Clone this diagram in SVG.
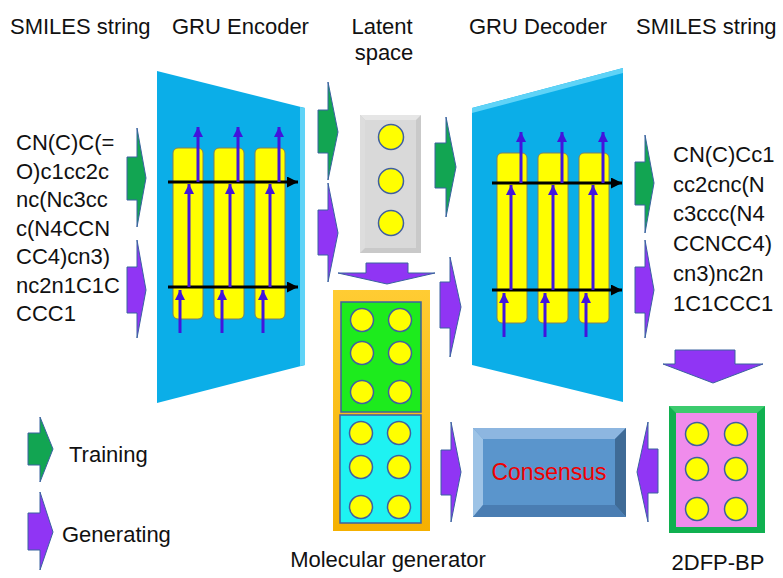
<svg xmlns="http://www.w3.org/2000/svg" width="783" height="578" viewBox="0 0 783 578">
<defs>
<style>
text{font-family:"Liberation Sans",Arial,sans-serif;font-size:22px;fill:#111}
.yb{fill:#FFFF00;stroke:#7F7F60;stroke-width:1}
.dot{fill:#FFFF00;stroke:#3F5FA0;stroke-width:1.5}
.blu{stroke:#4214DC;stroke-width:3;fill:none;marker-end:url(#bh)}
.blk{stroke:#000;stroke-width:3;fill:none;marker-end:url(#kh)}
.ga{fill:#12A552;stroke:#3A62A0;stroke-width:1}
.pa{fill:#9035F4;stroke:#3A62A0;stroke-width:1}
</style>
<marker id="bh" markerUnits="userSpaceOnUse" markerWidth="10" markerHeight="12" refX="10" refY="5" orient="auto"><path d="M0,0 L10,5 L0,10 Z" fill="#4214DC"/></marker>
<marker id="kh" markerUnits="userSpaceOnUse" markerWidth="12" markerHeight="12" refX="11" refY="5.5" orient="auto"><path d="M0,0 L11,5.5 L0,11 Z" fill="#000"/></marker>
<linearGradient id="og" x1="0" y1="0" x2="0" y2="1"><stop offset="0" stop-color="#FFCC33"/><stop offset="1" stop-color="#F5B000"/></linearGradient>
</defs>
<rect width="783" height="578" fill="#fff"/>

<g id="headers">
<text x="10" y="34">SMILES string</text>
<text x="172" y="34">GRU Encoder</text>
<text x="382" y="34" text-anchor="middle">Latent</text>
<text x="384" y="60" text-anchor="middle">space</text>
<text x="469" y="34">GRU Decoder</text>
<text x="636" y="34">SMILES string</text>
</g>

<g id="smiles-in">
<text x="16" y="150">CN(C)C(=</text>
<text x="16" y="178.5">O)c1cc2c</text>
<text x="16" y="207">nc(Nc3cc</text>
<text x="16" y="235.5">c(N4CCN</text>
<text x="16" y="264">CC4)cn3)</text>
<text x="16" y="292.5">nc2n1C1C</text>
<text x="16" y="321">CCC1</text>
</g>

<g id="encoder">
<polygon points="157,71 305,108 305,365 157,403" fill="#0BAEE8"/>
<polygon points="300,107 305,108 305,365 300,366" fill="#5FD3F7"/>
<rect class="yb" x="173" y="148" width="30" height="171" rx="5"/>
<rect class="yb" x="214" y="148" width="30" height="171" rx="5"/>
<rect class="yb" x="255" y="148" width="30" height="171" rx="5"/>
<path class="blk" d="M168,182 H298"/>
<path class="blk" d="M168,287 H298"/>
<path class="blu" d="M180,333 V290"/>
<path class="blu" d="M189,287 V184"/>
<path class="blu" d="M198,182 V127"/>
<path class="blu" d="M222,333 V290"/>
<path class="blu" d="M230,287 V184"/>
<path class="blu" d="M238,182 V127"/>
<path class="blu" d="M263,333 V290"/>
<path class="blu" d="M270,287 V184"/>
<path class="blu" d="M279,182 V127"/>
</g>

<g id="latent">
<rect x="360" y="115" width="61" height="138" fill="#C9C9C9"/>
<polygon points="360,115 421,115 416,120 365,120" fill="#E6E6E6"/>
<polygon points="360,115 365,120 365,248 360,253" fill="#DDDDDD"/>
<rect x="365" y="120" width="51" height="128" fill="#D9D9D9"/>
<circle class="dot" cx="391" cy="137" r="12.5"/>
<circle class="dot" cx="391" cy="181" r="12.5"/>
<circle class="dot" cx="391" cy="223" r="12.5"/>
</g>

<g id="decoder">
<polygon points="472,108 623,68 623,402 472,365" fill="#0BAEE8"/>
<polygon points="472,108 623,68 623,73 472,113" fill="#5FD3F7"/>
<rect class="yb" x="497" y="153" width="30" height="170" rx="5"/>
<rect class="yb" x="538" y="153" width="30" height="170" rx="5"/>
<rect class="yb" x="579" y="153" width="30" height="170" rx="5"/>
<path class="blk" d="M492,183 H622"/>
<path class="blk" d="M492,290 H622"/>
<path class="blu" d="M504,337 V293"/>
<path class="blu" d="M511,290 V185"/>
<path class="blu" d="M521,183 V132"/>
<path class="blu" d="M545,337 V293"/>
<path class="blu" d="M553,290 V185"/>
<path class="blu" d="M562,183 V132"/>
<path class="blu" d="M586,337 V293"/>
<path class="blu" d="M593,290 V185"/>
<path class="blu" d="M603,183 V132"/>
</g>

<g id="smiles-out">
<text x="673" y="162">CN(C)Cc1</text>
<text x="673" y="191.7">cc2cnc(N</text>
<text x="673" y="221.4">c3ccc(N4</text>
<text x="673" y="251.1">CCNCC4)</text>
<text x="673" y="280.8">cn3)nc2n</text>
<text x="673" y="310.5">1C1CCC1</text>
</g>

<g id="molgen">
<rect x="333" y="290" width="97" height="241" fill="url(#og)"/>
<rect x="341" y="302" width="80" height="110" fill="#1DEB1D" stroke="#3F5FA0" stroke-width="1.5"/>
<rect x="340" y="415" width="81" height="108" fill="#1EF2F2" stroke="#3F5FA0" stroke-width="1.5"/>
<circle class="dot" cx="362" cy="320" r="11.5"/>
<circle class="dot" cx="400" cy="320" r="11.5"/>
<circle class="dot" cx="362" cy="353" r="11.5"/>
<circle class="dot" cx="400" cy="353" r="11.5"/>
<circle class="dot" cx="362" cy="392" r="11.5"/>
<circle class="dot" cx="400" cy="392" r="11.5"/>
<circle class="dot" cx="361" cy="433" r="11.5"/>
<circle class="dot" cx="399" cy="433" r="11.5"/>
<circle class="dot" cx="361" cy="467" r="11.5"/>
<circle class="dot" cx="399" cy="467" r="11.5"/>
<circle class="dot" cx="361" cy="507" r="11.5"/>
<circle class="dot" cx="399" cy="507" r="11.5"/>
<text x="388" y="567" text-anchor="middle">Molecular generator</text>
</g>

<g id="consensus">
<rect x="473" y="428" width="153" height="89" fill="#5A95CC"/>
<polygon points="473,428 626,428 615,439 483,439" fill="#8DB6E0"/>
<polygon points="473,428 483,439 483,505 473,517" fill="#9DC3E6"/>
<polygon points="626,428 626,517 615,505 615,439" fill="#3F6B96"/>
<polygon points="473,517 626,517 615,505 483,505" fill="#4A7DB2"/>
<text x="549" y="480" text-anchor="middle" style="fill:#F00000;font-size:23px">Consensus</text>
</g>

<g id="bp">
<rect x="669" y="406" width="96" height="127" fill="#10B050"/>
<polygon points="669,406 765,406 757,413 676,413" fill="#3CCB6E"/>
<rect x="676" y="413" width="81" height="114" fill="#F08CEC"/>
<circle class="dot" cx="697" cy="434" r="11.5"/>
<circle class="dot" cx="736" cy="434" r="11.5"/>
<circle class="dot" cx="697" cy="469" r="11.5"/>
<circle class="dot" cx="736" cy="469" r="11.5"/>
<circle class="dot" cx="697" cy="509" r="11.5"/>
<circle class="dot" cx="736" cy="509" r="11.5"/>
<text x="718" y="570" text-anchor="middle">2DFP-BP</text>
</g>

<g id="connectors">
<polygon class="ga" points="127,157 137,157 137,128 146,178 137,227 137,200 127,200"/>
<polygon class="pa" points="127,267 137,267 137,240 146,290 137,338 137,313 127,313"/>
<polygon class="ga" points="318,110 328,110 328,82 338,132 328,180 328,153 318,153"/>
<polygon class="pa" points="318,210 328,210 328,183 338,233 328,282 328,255 318,255"/>
<polygon class="ga" points="435,143 446,143 446,117 456,167 446,217 446,188 435,188"/>
<polygon class="pa" points="440,282 450,282 450,257 461,307 450,357 450,328 440,328"/>
<polygon class="pa" points="441,450 451,450 451,422 461,472 451,522 451,495 441,495"/>
<polygon class="ga" points="635,162 645,162 645,135 654,183 645,233 645,205 635,205"/>
<polygon class="pa" points="635,267 645,267 645,240 654,290 645,338 645,313 635,313"/>
<polygon class="pa" points="658,449 648,449 648,422 637,472 648,522 648,493 658,493"/>
<polygon class="pa" points="366,263 408,263 408,273 435,273 387,284 338,273 366,273"/>
<polygon class="pa" points="675,350 735,350 735,364 763,364 713,383 663,364 675,364"/>
</g>

<g id="legend">
<polygon class="ga" points="28,433 40,433 40,417 53,449 40,482 40,465 28,465"/>
<polygon class="pa" points="28,513 40,513 40,492 53,532 40,570 40,550 28,550"/>
<text x="69" y="462">Training</text>
<text x="62" y="542">Generating</text>
</g>
</svg>
